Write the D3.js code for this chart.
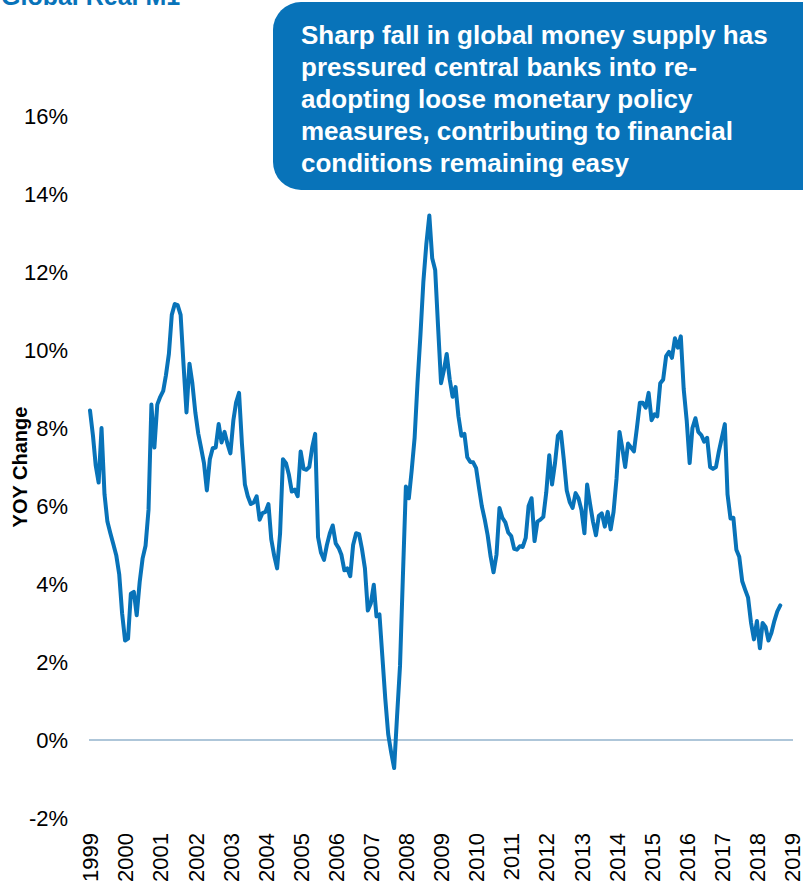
<!DOCTYPE html>
<html>
<head>
<meta charset="utf-8">
<script src="https://cdn.jsdelivr.net/npm/d3@7"></script>
<style>
  html, body { margin: 0; padding: 0; background: #fff; }
  svg { display: block; }
</style>
</head>
<body>
<svg id="chart" width="803" height="887"></svg>
<script>
// Global real M1, year-over-year change (%), monthly from Jan 1999
const startYear = 1999;
const yoyValues = [
  8.45, 7.8, 7.05, 6.6, 8.0, 6.3, 5.6, 5.3, 5.02, 4.74, 4.25, 3.25,
  2.55, 2.6, 3.75, 3.8, 3.2, 4.05, 4.65, 4.98, 5.9, 8.6, 7.5, 8.6,
  8.8, 8.95, 9.35, 9.9, 10.9, 11.18, 11.15, 10.9, 9.6, 8.4, 9.65, 9.15,
  8.4, 7.85, 7.5, 7.1, 6.4, 7.2, 7.48, 7.5, 8.1, 7.63, 7.9, 7.6,
  7.35, 8.2, 8.65, 8.9, 7.6, 6.55, 6.25, 6.05, 6.09, 6.25, 5.65, 5.82,
  5.85, 6.05, 5.15, 4.72, 4.4, 5.3, 7.2, 7.1, 6.8, 6.37, 6.42, 6.25,
  7.4, 6.95, 6.93, 7.0, 7.5, 7.85, 5.2, 4.8, 4.62, 5.0, 5.3, 5.5,
  5.04, 4.92, 4.75, 4.35, 4.4, 4.2, 5.0, 5.3, 5.28, 4.9, 4.4, 3.32,
  3.5, 3.98, 3.17, 3.22, 2.15, 1.05, 0.15, -0.32, -0.72, 0.6, 1.9, 4.2,
  6.5, 6.2, 6.9, 7.75, 9.15, 10.4, 11.75, 12.72, 13.45, 12.35, 12.05, 10.6,
  9.15, 9.5, 9.9, 9.25, 8.8, 9.05, 8.3, 7.8, 7.85, 7.25, 7.13, 7.12,
  6.97, 6.45, 6.0, 5.65, 5.25, 4.7, 4.3, 4.75, 5.95, 5.7, 5.58, 5.32,
  5.23, 4.9, 4.88, 4.97, 4.95, 5.18, 6.0, 6.2, 5.1, 5.6, 5.65, 5.72,
  6.35, 7.3, 6.55, 7.1, 7.8, 7.9, 7.2, 6.4, 6.1, 5.95, 6.33, 6.2,
  5.9, 5.3, 6.55, 6.05, 5.6, 5.25, 5.75, 5.81, 5.47, 5.85, 5.4, 5.85,
  6.7, 7.9, 7.5, 7.0, 7.6, 7.5, 7.4, 8.0, 8.65, 8.65, 8.52, 8.9,
  8.2, 8.35, 8.3, 9.15, 9.24, 9.84, 9.95, 9.8, 10.3, 10.06, 10.35, 9.0,
  8.2, 7.1, 8.0, 8.25, 7.9, 7.82, 7.65, 7.75, 7.0, 6.95, 7.0, 7.4,
  7.75, 8.1, 6.3, 5.68, 5.7, 4.88, 4.7, 4.07, 3.85, 3.65, 3.0, 2.58,
  3.05, 2.35, 3.0, 2.9, 2.55, 2.75, 3.05, 3.3, 3.45
];
const yTicks = [-2, 0, 2, 4, 6, 8, 10, 12, 14, 16];
const yearTicks = d3.range(1999, 2020);

const titleText = "Global Real M1";
const yAxisTitle = "YOY Change";
const noteLines = [
  "Sharp fall in global money supply has",
  "pressured central banks into re-",
  "adopting loose monetary policy",
  "measures, contributing to financial",
  "conditions remaining easy"
];

const blue = "#0873b9";
const svg = d3.select("#chart");

const data = yoyValues.map((v, i) => ({
  date: new Date(startYear, i, 1),
  value: v
}));

const x = d3.scaleTime()
  .domain([new Date(1999, 0, 1), new Date(2019, 0, 1)])
  .range([90, 792]);

const y = d3.scaleLinear()
  .domain([-2, 16])
  .range([818, 116]);

// Title, partly cut off at the top edge
svg.append("text")
  .attr("x", 1)
  .attr("y", 5)
  .attr("font-family", "Liberation Sans, Arial, sans-serif")
  .attr("font-size", 25)
  .attr("font-weight", "bold")
  .attr("fill", blue)
  .text(titleText);

// Y axis: labels only
const yAxis = d3.axisLeft(y)
  .tickValues(yTicks)
  .tickSize(0)
  .tickPadding(0)
  .tickFormat(d => d + "%");

const gy = svg.append("g")
  .attr("transform", "translate(68,0)")
  .call(yAxis);
gy.select(".domain").remove();
gy.selectAll("text")
  .attr("font-family", "Liberation Sans, Arial, sans-serif")
  .attr("font-size", 22)
  .attr("fill", "#000");

// X axis: rotated year labels
const xAxis = d3.axisBottom(x)
  .tickValues(yearTicks.map(yr => new Date(yr, 0, 1)))
  .tickSize(0)
  .tickFormat(d3.timeFormat("%Y"));

const gx = svg.append("g")
  .attr("transform", "translate(0,833)")
  .call(xAxis);
gx.select(".domain").remove();
gx.selectAll("text")
  .attr("font-family", "Liberation Sans, Arial, sans-serif")
  .attr("font-size", 22)
  .attr("fill", "#000")
  .attr("text-anchor", "end")
  .attr("dy", "0.35em")
  .attr("transform", "rotate(-90)")
  .attr("x", 0)
  .attr("y", 0);

// Y axis title
svg.append("text")
  .attr("transform", "translate(27,467) rotate(-90)")
  .attr("text-anchor", "middle")
  .attr("font-family", "Liberation Sans, Arial, sans-serif")
  .attr("font-size", 20)
  .attr("font-weight", "bold")
  .attr("fill", "#000")
  .text(yAxisTitle);

// Zero reference line
svg.append("line")
  .attr("x1", 89)
  .attr("x2", 793)
  .attr("y1", y(0))
  .attr("y2", y(0))
  .attr("stroke", "#5f8db3")
  .attr("stroke-width", 1.2);

// Series line
const line = d3.line()
  .x(d => x(d.date))
  .y(d => y(d.value));

svg.append("path")
  .datum(data)
  .attr("d", line)
  .attr("fill", "none")
  .attr("stroke", blue)
  .attr("stroke-width", 4)
  .attr("stroke-linejoin", "round")
  .attr("stroke-linecap", "round");

// Callout box
svg.append("rect")
  .attr("x", 273)
  .attr("y", 2)
  .attr("width", 580)
  .attr("height", 188)
  .attr("rx", 28)
  .attr("ry", 28)
  .attr("fill", blue);

svg.append("g")
  .selectAll("text")
  .data(noteLines)
  .join("text")
  .attr("x", 301)
  .attr("y", (d, i) => 44 + i * 32)
  .attr("font-family", "Liberation Sans, Arial, sans-serif")
  .attr("font-size", 26)
  .attr("font-weight", "bold")
  .attr("fill", "#fff")
  .text(d => d);
</script>
</body>
</html>
